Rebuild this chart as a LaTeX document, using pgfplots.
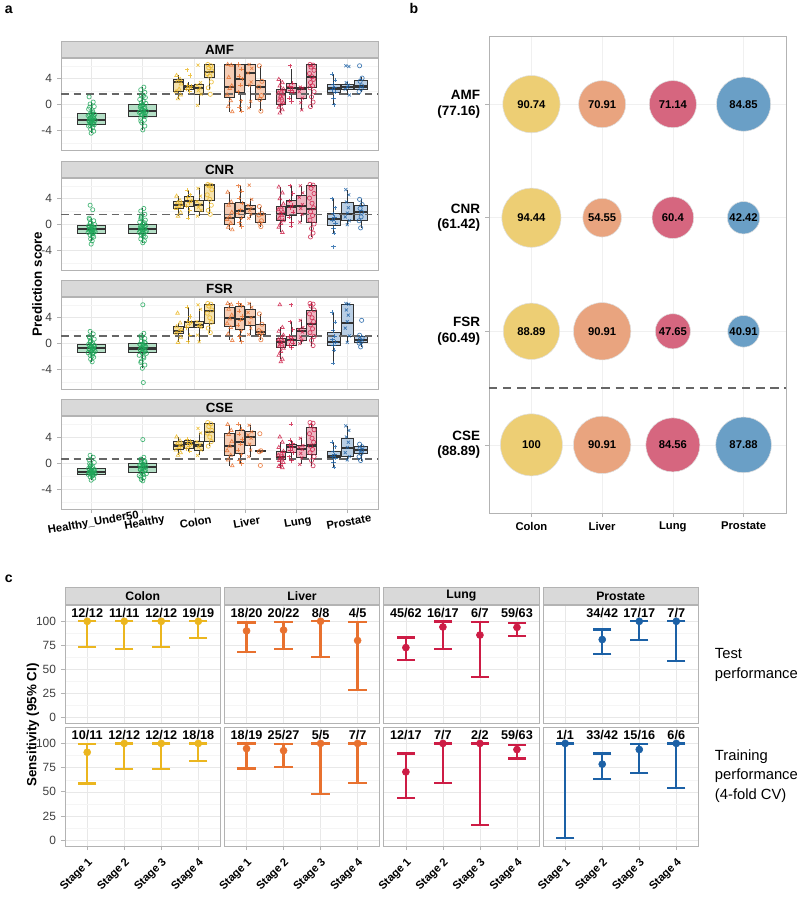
\documentclass[border=0pt]{standalone}
\usepackage{fontspec}
\setmainfont{Liberation Sans}
\usepackage{pgfplots}
\pgfplotsset{compat=1.18}
\usepgfplotslibrary{statistics}

\definecolor{hgreen}{HTML}{1FA75A}
\definecolor{hfill}{HTML}{B4DFC6}
\definecolor{ccol}{HTML}{EBB61F}
\definecolor{cfill}{HTML}{F6E3AE}
\definecolor{lcol}{HTML}{E8712F}
\definecolor{lfill}{HTML}{F5CDB5}
\definecolor{gcol}{HTML}{CD1C45}
\definecolor{gfill}{HTML}{EDB6C2}
\definecolor{pcol}{HTML}{1C61A6}
\definecolor{pfill}{HTML}{B9CEE4}
\definecolor{boxln}{HTML}{333333}
\definecolor{frame}{HTML}{B3B3B3}
\definecolor{stripgray}{HTML}{D9D9D9}
\definecolor{bcol}{HTML}{EDCE74}
\definecolor{bliv}{HTML}{E9A47F}
\definecolor{blun}{HTML}{D6667F}
\definecolor{bpro}{HTML}{6A9FC6}
\definecolor{cutline}{HTML}{666666}

\newcommand{\fs}[2]{\fontsize{#1}{#2}\selectfont}

% box: position, lower whisker, lower q, median, upper q, upper whisker, fill, width
\newcommand{\bx}[8]{\addplot[boxst, fill=#7, boxplot prepared={draw position=#1, lower whisker=#2, lower quartile=#3, median=#4, upper quartile=#5, upper whisker=#6, box extend=#8}] coordinates {};}
% jittered points: colour, mark, coordinates
\newcommand{\pts}[3]{\addplot[only marks, mark=#2, color=#1, mark size=1.5pt, mark options={line width=0.5pt}, opacity=0.8] coordinates {#3};}
% bubble: x, y, radius (pt), fill
\newcommand{\bub}[4]{\addplot[only marks, mark=*, mark size=#3pt, mark options={fill=#4, draw=black!12, line width=0.4pt}] coordinates {(#1,#2)};}

\pgfplotsset{
  base/.style={
    scale only axis,
    axis line style={draw=frame, line width=0.7pt},
    tick align=outside,
    tick style={draw=frame, line width=0.5pt},
    major tick length=1mm,
    minor tick length=0pt,
    xtick pos=left, ytick pos=left,
    grid=both,
    major grid style={draw=black!9, line width=0.45pt},
    minor grid style={draw=black!4, line width=0.3pt},
    tick label style={font=\fs{8.5}{10}, text=black!75},
    /pgf/number format/assume math mode=true,
    anchor=south west,
  },
  boxst/.style={draw=boxln, line width=0.6pt},
  cut/.style={cutline, line width=1.3pt, dash pattern=on 5.5pt off 3.5pt},
  facetA/.style={base, width=79.25mm, height=23mm,
    xmin=0.4, xmax=6.6, ymin=-7, ymax=7.2,
    xtick={1,...,6}, xticklabels={},
    ytick={-4,0,4}, minor ytick={-6,-2,2,6},
    boxplot/draw direction=y,
    boxplot/whisker extend=0,
    boxplot/every median/.style={line width=1.5pt},
    every axis title/.style={at={(0.5,1)}, anchor=south, fill=stripgray, draw=frame, line width=0.7pt,
      inner sep=0pt, minimum width=79.25mm, minimum height=4mm, font=\bfseries\fs{9.5}{10}}},
  facetC/.style={base, width=38.875mm,
    xmin=0.4, xmax=4.6, ymin=-6, ymax=117,
    xtick={1,2,3,4}, xticklabels={Stage 1,Stage 2,Stage 3,Stage 4},
    xticklabel style={rotate=45, anchor=north east, font=\bfseries\fs{8}{10}, text=black},
    ytick={0,25,50,75,100}, minor ytick={12.5,37.5,62.5,87.5}},
  topC/.style={height=29.5mm, xticklabels={}, xmajorticks=false,
    every axis title/.style={at={(0.5,1)}, anchor=south, fill=stripgray, draw=frame, line width=0.7pt,
      inner sep=0pt, minimum width=38.875mm, minimum height=4.25mm, font=\bfseries\fs{8.7}{10}}},
  botC/.style={height=29.75mm},
  noy/.style={yticklabels={}, ymajorticks=false},
  cap/.style={only marks, mark=-, mark size=6.5pt, color=#1, mark options={line width=1.6pt}},
  eb/.style={only marks, mark=*, mark size=2.5pt, color=#1, line width=1.7pt,
    mark options={line width=0.4pt},
    /pgfplots/error bars/error bar style={line width=1.7pt, color=#1},
    error bars/.cd, y dir=both, y explicit, error mark=none},
  lab/.style={draw=none, mark=none, nodes near coords, point meta=explicit symbolic,
    nodes near coords style={anchor=center, font=\bfseries\fs{9}{10}, text=black}},
}

\begin{document}
\begin{tikzpicture}
\path[use as bounding box] (0,0) rectangle (200mm,-224.5mm);

% ---------------- panel a ----------------
\node[anchor=west, font=\bfseries\fs{10}{12}] at (0mm,-2.5mm) {a};
\node[rotate=90, font=\bfseries\fs{9.5}{11}] at (9.25mm,-71mm) {Prediction score};

% AMF
\begin{axis}[facetA, at={(15.25mm,-37.5mm)}, title={AMF}, xmajorticks=false]
\bx{1}{-4.4}{-3.0}{-2.4}{-1.4}{0.4}{hfill}{0.55}
\bx{2}{-3.9}{-1.75}{-1.0}{0.05}{2.7}{hfill}{0.55}
\bx{2.7}{0.9}{2.0}{3.5}{3.9}{4.6}{cfill}{0.19}
\bx{2.9}{2.0}{2.4}{2.8}{3.0}{3.5}{cfill}{0.19}
\bx{3.1}{-0.1}{1.6}{2.6}{3.05}{3.4}{cfill}{0.19}
\bx{3.3}{2.2}{4.2}{5.0}{6.2}{6.3}{cfill}{0.19}
\bx{3.7}{-1.1}{1.1}{2.7}{6.2}{6.2}{lfill}{0.19}
\bx{3.9}{-1.0}{1.85}{4.0}{6.2}{6.2}{lfill}{0.19}
\bx{4.1}{-0.5}{3.0}{4.9}{6.2}{6.2}{lfill}{0.19}
\bx{4.3}{-1.0}{0.85}{2.7}{3.7}{6.0}{lfill}{0.19}
\bx{4.7}{-1.3}{0.1}{1.7}{2.4}{3.9}{gfill}{0.19}
\bx{4.9}{0.5}{1.9}{2.6}{3.3}{5.5}{gfill}{0.19}
\bx{5.1}{-0.8}{0.95}{2.5}{2.65}{2.7}{gfill}{0.19}
\bx{5.3}{-0.3}{2.6}{4.3}{6.2}{6.2}{gfill}{0.19}
\bx{5.733}{0.0}{1.9}{2.5}{3.15}{4.7}{pfill}{0.25}
\bx{6}{1.5}{2.4}{2.7}{3.1}{3.5}{pfill}{0.25}
\bx{6.267}{1.9}{2.4}{2.8}{3.7}{4.2}{pfill}{0.25}
\addplot[cut] coordinates {(0.4,1.6) (6.6,1.6)};
\pts{hgreen}{o}{(0.95,1.2)(1.03,0.4)(0.97,0.1)(1.05,-0.3)(0.94,-0.7)(1.02,-1.0)(0.98,-1.3)(1.06,-1.5)(0.93,-1.7)(1.01,-1.9)(1.04,-2.1)(0.96,-2.2)(1.07,-2.4)(0.99,-2.5)(0.95,-2.6)(1.03,-2.8)(0.97,-2.9)(1.05,-3.1)(0.94,-3.3)(1.02,-3.5)(0.98,-3.8)(1.04,-4.1)(0.99,-4.4)}
\pts{hgreen}{o}{(1.0,-1.45)(0.96,-1.6)(1.04,-1.8)(0.98,-2.0)(1.02,-2.3)(0.95,-2.45)(1.05,-2.55)(0.99,-2.7)(1.03,-3.0)(0.97,-3.2)(1.01,-1.2)(0.96,-0.4)}
\pts{hgreen}{o}{(2.02,2.7)(1.96,2.3)(2.04,1.9)(1.97,1.5)(2.05,1.1)(1.94,0.8)(2.01,0.5)(2.06,0.2)(1.98,-0.1)(1.95,-0.4)(2.03,-0.6)(1.99,-0.8)(2.07,-1.0)(1.93,-1.2)(2.02,-1.4)(1.97,-1.6)(2.05,-1.8)(1.96,-2.1)(2.03,-2.4)(1.98,-2.8)(2.04,-3.3)(2.0,-3.9)}
\pts{hgreen}{o}{(2.0,0.0)(1.96,-0.2)(2.04,-0.5)(1.98,-0.7)(2.02,-0.9)(1.95,-1.1)(2.05,-1.3)(1.99,-1.5)(2.03,-1.7)(1.97,0.3)(2.01,1.3)(1.96,-2.5)}
\pts{ccol}{triangle}{(2.66,4.5)(2.73,3.9)(2.68,3.6)(2.75,3.2)(2.71,2.4)(2.65,2.0)(2.74,1.5)(2.69,0.9)}
\pts{ccol}{+}{(2.87,5.4)(2.93,4.5)(2.88,3.0)(2.94,2.8)(2.91,2.6)(2.86,2.4)(2.92,2.0)}
\pts{ccol}{x}{(3.08,6.1)(3.13,3.4)(3.06,3.0)(3.12,2.6)(3.09,2.2)(3.14,1.6)(3.07,-0.1)}
\pts{ccol}{o}{(3.27,6.2)(3.33,6.0)(3.29,5.7)(3.35,5.2)(3.26,4.8)(3.31,4.4)(3.34,3.5)(3.28,2.6)(3.32,1.6)}
\pts{lcol}{triangle}{(3.66,6.2)(3.73,6.1)(3.68,4.2)(3.74,2.9)(3.7,2.5)(3.65,1.5)(3.72,0.6)(3.67,-0.3)(3.75,-1.1)}
\pts{lcol}{+}{(3.87,6.2)(3.93,5.5)(3.88,4.4)(3.94,4.0)(3.91,3.0)(3.86,2.0)(3.92,0.6)(3.89,-0.4)(3.93,-1.0)}
\pts{lcol}{x}{(4.08,6.2)(4.13,5.6)(4.06,4.9)(4.12,3.5)(4.09,3.0)(4.11,0.5)(4.07,-0.5)}
\pts{lcol}{o}{(4.28,6.0)(4.33,3.6)(4.27,2.7)(4.32,1.4)(4.29,0.8)(4.31,-1.0)}
\pts{gcol}{triangle}{(4.66,3.9)(4.73,3.4)(4.68,2.9)(4.75,2.4)(4.71,2.1)(4.65,1.8)(4.74,1.6)(4.69,1.3)(4.72,1.0)(4.67,0.7)(4.75,0.3)(4.7,0.0)(4.66,-0.4)(4.73,-0.8)(4.68,-1.3)}
\pts{gcol}{+}{(4.88,6.0)(4.93,3.3)(4.87,2.9)(4.92,2.6)(4.89,2.2)(4.94,1.9)(4.86,1.0)(4.91,0.5)}
\pts{gcol}{x}{(5.08,2.7)(5.13,2.55)(5.06,2.0)(5.12,1.0)(5.09,0.3)(5.11,-0.8)}
\pts{gcol}{o}{(5.27,6.2)(5.33,6.1)(5.29,5.8)(5.35,5.3)(5.26,4.8)(5.31,4.3)(5.34,3.9)(5.28,3.4)(5.32,2.9)(5.27,2.6)(5.35,2.0)(5.3,1.2)(5.33,0.4)(5.28,-0.3)}
\pts{pcol}{+}{(5.70,4.7)(5.76,3.8)(5.72,3.1)(5.75,2.6)(5.71,2.3)(5.77,1.9)(5.73,1.0)(5.74,0.0)}
\pts{pcol}{x}{(5.97,6.0)(6.03,5.9)(5.98,3.4)(6.02,3.0)(6.0,2.7)(5.96,2.4)(6.04,1.5)}
\pts{pcol}{o}{(6.24,6.0)(6.29,4.1)(6.25,3.6)(6.28,2.9)(6.27,2.5)(6.23,2.0)}
\end{axis}

% CNR
\begin{axis}[facetA, at={(15.25mm,-67.5mm)}, title={CNR}, xmajorticks=false]
\bx{1}{-2.5}{-1.3}{-0.65}{-0.1}{1.0}{hfill}{0.55}
\bx{2}{-2.8}{-1.4}{-0.7}{0.1}{2.5}{hfill}{0.55}
\bx{2.7}{1.3}{2.5}{3.0}{3.55}{4.4}{cfill}{0.19}
\bx{2.9}{1.0}{2.75}{3.6}{4.4}{5.3}{cfill}{0.19}
\bx{3.1}{1.3}{2.1}{3.0}{3.8}{5.6}{cfill}{0.19}
\bx{3.3}{1.6}{3.8}{6.1}{6.2}{6.2}{cfill}{0.19}
\bx{3.7}{-0.8}{0.1}{1.0}{3.3}{5.0}{lfill}{0.19}
\bx{3.9}{-0.3}{1.1}{2.1}{3.5}{6.0}{lfill}{0.19}
\bx{4.1}{1.0}{1.7}{2.4}{3.0}{3.9}{lfill}{0.19}
\bx{4.3}{-0.3}{0.3}{1.6}{1.75}{2.8}{lfill}{0.19}
\bx{4.7}{-1.2}{0.7}{1.7}{2.8}{5.8}{gfill}{0.19}
\bx{4.9}{-0.2}{1.5}{2.8}{3.7}{6.0}{gfill}{0.19}
\bx{5.1}{0.4}{1.7}{2.9}{4.5}{6.0}{gfill}{0.19}
\bx{5.3}{-1.9}{0.3}{2.4}{6.1}{6.2}{gfill}{0.19}
\bx{5.733}{-1.3}{-0.1}{0.9}{1.75}{4.0}{pfill}{0.25}
\bx{6}{0.0}{0.6}{1.7}{3.4}{5.4}{pfill}{0.25}
\bx{6.267}{-0.5}{0.7}{2.0}{2.9}{3.9}{pfill}{0.25}
\addplot[cut] coordinates {(0.4,1.58) (6.6,1.58)};
\pts{hgreen}{o}{(0.97,3.0)(1.02,2.3)(0.95,1.0)(1.04,0.6)(0.98,0.3)(1.06,0.0)(0.94,-0.2)(1.01,-0.4)(1.05,-0.5)(0.96,-0.7)(1.03,-0.8)(0.99,-0.9)(1.07,-1.1)(0.93,-1.2)(1.02,-1.4)(0.97,-1.6)(1.04,-1.9)(0.98,-2.2)(1.01,-2.5)(0.99,-3.0)}
\pts{hgreen}{o}{(1.0,-0.15)(0.96,-0.3)(1.04,-0.45)(0.98,-0.6)(1.02,-0.75)(0.95,-0.85)(1.05,-1.0)(0.99,-1.15)(1.03,-1.25)(0.97,0.2)(1.01,-1.8)(0.96,0.8)}
\pts{hgreen}{o}{(2.02,2.5)(1.96,2.1)(2.04,1.6)(1.97,1.1)(2.05,0.7)(1.94,0.4)(2.01,0.1)(2.06,-0.1)(1.98,-0.3)(1.95,-0.5)(2.03,-0.7)(1.99,-0.8)(2.07,-1.0)(1.93,-1.2)(2.02,-1.4)(1.97,-1.6)(2.05,-1.9)(1.96,-2.2)(2.03,-2.5)(2.0,-2.8)}
\pts{hgreen}{o}{(2.0,0.05)(1.96,-0.2)(2.04,-0.4)(1.98,-0.6)(2.02,-0.75)(1.95,-0.9)(2.05,-1.1)(1.99,-1.3)(2.03,0.3)(1.97,1.3)(2.01,-1.8)(1.96,0.9)}
\pts{ccol}{triangle}{(2.66,4.4)(2.73,3.7)(2.68,3.4)(2.75,3.1)(2.71,2.8)(2.65,2.5)(2.74,1.9)(2.69,1.3)}
\pts{ccol}{+}{(2.87,5.3)(2.93,4.6)(2.88,4.2)(2.94,3.7)(2.91,3.4)(2.86,2.9)(2.92,2.2)(2.89,1.0)}
\pts{ccol}{x}{(3.08,5.6)(3.13,4.4)(3.06,3.6)(3.12,3.1)(3.09,2.7)(3.14,2.2)(3.07,1.3)}
\pts{ccol}{o}{(3.27,6.2)(3.33,6.1)(3.29,6.0)(3.35,5.4)(3.26,4.6)(3.31,3.9)(3.34,3.0)(3.28,2.2)(3.32,1.6)}
\pts{lcol}{triangle}{(3.66,5.0)(3.73,3.5)(3.68,3.0)(3.74,1.9)(3.7,1.2)(3.65,0.8)(3.72,0.2)(3.67,-0.4)(3.75,-0.8)}
\pts{lcol}{+}{(3.87,6.0)(3.93,5.2)(3.88,4.1)(3.94,3.3)(3.91,2.3)(3.86,1.8)(3.92,1.0)(3.89,0.3)(3.93,-0.3)}
\pts{lcol}{x}{(4.08,6.1)(4.13,3.9)(4.06,3.0)(4.12,2.6)(4.09,2.2)(4.11,1.6)(4.07,1.0)}
\pts{lcol}{o}{(4.28,2.8)(4.33,1.7)(4.27,1.5)(4.32,0.6)(4.29,0.2)(4.31,-0.3)}
\pts{gcol}{triangle}{(4.66,5.8)(4.73,4.9)(4.68,4.0)(4.75,3.2)(4.71,2.7)(4.65,2.3)(4.74,2.0)(4.69,1.7)(4.72,1.4)(4.67,1.0)(4.75,0.6)(4.7,0.2)(4.66,-0.4)(4.73,-1.2)}
\pts{gcol}{+}{(4.88,6.0)(4.93,4.8)(4.87,3.6)(4.92,3.0)(4.89,2.6)(4.94,1.9)(4.86,1.2)(4.91,0.4)(4.9,-0.2)}
\pts{gcol}{x}{(5.08,6.0)(5.13,4.9)(5.06,4.2)(5.12,3.1)(5.09,2.5)(5.11,1.6)(5.07,0.4)}
\pts{gcol}{o}{(5.27,6.2)(5.33,6.1)(5.29,5.6)(5.35,4.8)(5.26,4.1)(5.31,3.3)(5.34,2.6)(5.28,2.0)(5.32,1.4)(5.27,0.7)(5.35,0.1)(5.3,-0.6)(5.33,-1.3)(5.28,-1.9)}
\pts{pcol}{+}{(5.70,4.0)(5.76,2.6)(5.72,1.7)(5.75,1.1)(5.71,0.7)(5.77,0.2)(5.73,-0.5)(5.74,-1.3)(5.73,-3.4)}
\pts{pcol}{x}{(5.97,5.4)(6.03,4.6)(5.98,3.5)(6.02,2.6)(6.0,1.8)(5.96,1.2)(6.04,0.6)(6.0,0.0)}
\pts{pcol}{o}{(6.24,3.9)(6.29,3.1)(6.25,2.5)(6.28,1.9)(6.27,1.2)(6.23,0.6)(6.26,-0.5)}
\end{axis}

% FSR
\begin{axis}[facetA, at={(15.25mm,-97.25mm)}, title={FSR}, xmajorticks=false]
\bx{1}{-2.8}{-1.4}{-0.7}{-0.05}{1.9}{hfill}{0.55}
\bx{2}{-3.8}{-1.4}{-0.75}{0.0}{1.6}{hfill}{0.55}
\bx{2.7}{0.2}{1.6}{2.0}{2.6}{3.2}{cfill}{0.19}
\bx{2.9}{0.3}{2.5}{3.3}{3.5}{5.6}{cfill}{0.19}
\bx{3.1}{0.3}{2.5}{2.9}{3.4}{5.3}{cfill}{0.19}
\bx{3.3}{1.7}{3.1}{5.0}{6.1}{6.2}{cfill}{0.19}
\bx{3.7}{0.5}{2.6}{3.9}{5.6}{6.2}{lfill}{0.19}
\bx{3.9}{0.3}{2.2}{3.8}{5.8}{6.2}{lfill}{0.19}
\bx{4.1}{1.4}{2.8}{4.1}{5.3}{6.2}{lfill}{0.19}
\bx{4.3}{0.6}{1.45}{1.8}{3.0}{4.6}{lfill}{0.19}
\bx{4.7}{-2.4}{-0.6}{0.3}{0.8}{2.5}{gfill}{0.19}
\bx{4.9}{-0.6}{-0.2}{0.5}{1.05}{3.4}{gfill}{0.19}
\bx{5.1}{0.0}{0.55}{2.0}{2.4}{3.6}{gfill}{0.19}
\bx{5.3}{-0.3}{1.05}{3.0}{5.2}{6.2}{gfill}{0.19}
\bx{5.733}{-3.0}{-0.2}{0.3}{1.8}{4.8}{pfill}{0.25}
\bx{6}{0.2}{1.05}{3.2}{6.1}{6.2}{pfill}{0.25}
\bx{6.267}{-0.5}{0.15}{0.5}{1.15}{1.3}{pfill}{0.25}
\addplot[cut] coordinates {(0.4,1.15) (6.6,1.15)};
\pts{hgreen}{o}{(0.97,1.9)(1.03,1.5)(0.95,1.1)(1.05,0.7)(0.98,0.4)(1.02,0.1)(0.94,-0.1)(1.06,-0.3)(0.99,-0.5)(1.04,-0.7)(0.96,-0.8)(1.01,-1.0)(1.07,-1.2)(0.93,-1.4)(1.02,-1.6)(0.97,-1.8)(1.04,-2.1)(0.98,-2.4)(1.01,-2.8)}
\pts{hgreen}{o}{(1.0,-0.1)(0.96,-0.25)(1.04,-0.4)(0.98,-0.55)(1.02,-0.75)(0.95,-0.9)(1.05,-1.05)(0.99,-1.2)(1.03,-1.35)(0.97,0.25)(1.01,-1.9)(0.96,0.9)}
\pts{hgreen}{o}{(2.0,6.0)(2.02,1.6)(1.96,1.2)(2.04,0.8)(1.97,0.4)(2.05,0.1)(1.94,-0.1)(2.01,-0.3)(2.06,-0.5)(1.98,-0.7)(1.95,-0.9)(2.03,-1.1)(1.99,-1.3)(2.07,-1.5)(1.93,-1.8)(2.02,-2.2)(1.97,-2.7)(2.04,-3.3)(1.99,-3.8)(2.01,-6.0)}
\pts{hgreen}{o}{(2.0,-0.05)(1.96,-0.2)(2.04,-0.4)(1.98,-0.6)(2.02,-0.8)(1.95,-0.95)(2.05,-1.2)(1.99,-1.35)(2.03,0.25)(1.97,1.0)(2.01,-2.0)(1.96,-2.9)}
\pts{ccol}{triangle}{(2.68,4.7)(2.73,3.2)(2.66,2.6)(2.75,2.2)(2.71,1.9)(2.65,1.6)(2.74,1.0)(2.69,0.2)}
\pts{ccol}{+}{(2.87,5.6)(2.93,4.2)(2.88,3.5)(2.94,3.3)(2.91,3.0)(2.86,2.5)(2.92,1.3)(2.89,0.3)}
\pts{ccol}{x}{(3.08,6.0)(3.13,5.3)(3.06,3.4)(3.12,3.0)(3.09,2.7)(3.14,2.5)(3.07,1.3)(3.1,0.3)}
\pts{ccol}{o}{(3.27,6.2)(3.33,6.1)(3.29,5.8)(3.35,5.2)(3.26,4.7)(3.31,4.0)(3.34,3.3)(3.28,2.4)(3.32,1.7)}
\pts{lcol}{triangle}{(3.66,6.2)(3.73,6.0)(3.68,5.3)(3.74,4.4)(3.7,3.8)(3.65,3.1)(3.72,2.5)(3.67,1.5)(3.75,0.5)}
\pts{lcol}{+}{(3.87,6.2)(3.93,5.9)(3.88,5.0)(3.94,4.2)(3.91,3.6)(3.86,2.9)(3.92,2.0)(3.89,1.1)(3.93,0.3)}
\pts{lcol}{x}{(4.08,6.2)(4.13,5.6)(4.06,4.8)(4.12,4.0)(4.09,3.2)(4.11,2.4)(4.07,1.4)}
\pts{lcol}{o}{(4.28,4.6)(4.33,3.0)(4.27,2.0)(4.32,1.7)(4.29,1.4)(4.31,0.6)}
\pts{gcol}{triangle}{(4.68,6.0)(4.73,2.5)(4.66,1.9)(4.75,1.3)(4.71,0.9)(4.65,0.6)(4.74,0.4)(4.69,0.2)(4.72,-0.1)(4.67,-0.4)(4.75,-0.7)(4.7,-1.2)(4.66,-1.8)(4.73,-2.4)(4.7,-2.8)}
\pts{gcol}{+}{(4.9,6.0)(4.88,3.4)(4.93,2.2)(4.87,1.1)(4.92,0.8)(4.89,0.5)(4.94,0.1)(4.86,-0.2)(4.91,-0.6)}
\pts{gcol}{x}{(5.08,3.6)(5.13,2.5)(5.06,2.2)(5.12,1.8)(5.09,1.0)(5.11,0.5)(5.07,0.0)}
\pts{gcol}{o}{(5.27,6.2)(5.33,6.1)(5.29,5.8)(5.35,5.2)(5.26,4.6)(5.31,4.0)(5.34,3.4)(5.28,2.9)(5.32,2.3)(5.27,1.7)(5.35,1.1)(5.3,0.5)(5.33,-0.3)}
\pts{pcol}{+}{(5.70,4.8)(5.76,3.3)(5.72,2.0)(5.75,1.2)(5.71,0.6)(5.77,0.2)(5.73,-0.2)(5.74,-1.0)(5.72,-3.0)}
\pts{pcol}{x}{(5.97,6.2)(6.03,6.1)(5.98,5.2)(6.02,4.4)(6.0,3.4)(5.96,2.4)(6.04,1.2)(6.0,0.2)}
\pts{pcol}{o}{(6.28,3.6)(6.24,1.3)(6.29,0.9)(6.25,0.6)(6.27,0.3)(6.23,0.1)(6.26,-0.5)}
\end{axis}

% CSE
\begin{axis}[facetA, at={(15.25mm,-127.25mm)}, height=23.25mm, title={CSE},
  xticklabels={Healthy\_Under50,Healthy,Colon,Liver,Lung,Prostate},
  xticklabel style={rotate=10, anchor=north, font=\bfseries\fs{8}{10}, text=black}]
\bx{1}{-2.6}{-1.65}{-1.4}{-0.75}{1.2}{hfill}{0.55}
\bx{2}{-2.7}{-1.4}{-0.6}{-0.1}{0.9}{hfill}{0.55}
\bx{2.7}{1.2}{2.05}{2.7}{3.25}{4.0}{cfill}{0.19}
\bx{2.9}{1.8}{2.2}{3.0}{3.4}{3.7}{cfill}{0.19}
\bx{3.1}{1.2}{2.0}{2.7}{3.3}{4.6}{cfill}{0.19}
\bx{3.3}{2.6}{3.25}{4.8}{6.1}{6.2}{cfill}{0.19}
\bx{3.7}{-0.4}{1.2}{2.6}{4.6}{5.9}{lfill}{0.19}
\bx{3.9}{-0.1}{1.55}{3.2}{5.0}{6.0}{lfill}{0.19}
\bx{4.1}{1.0}{2.7}{4.0}{4.8}{5.8}{lfill}{0.19}
\bx{4.3}{1.7}{1.72}{1.8}{1.95}{1.95}{lfill}{0.19}
\bx{4.7}{-0.7}{0.55}{0.93}{1.85}{3.2}{gfill}{0.19}
\bx{4.9}{0.4}{1.6}{2.5}{2.9}{3.5}{gfill}{0.19}
\bx{5.1}{-0.2}{0.85}{2.2}{2.65}{3.8}{gfill}{0.19}
\bx{5.3}{-0.4}{1.35}{2.7}{5.5}{6.2}{gfill}{0.19}
\bx{5.733}{-0.6}{0.83}{1.1}{1.86}{3.2}{pfill}{0.25}
\bx{6}{0.5}{1.1}{2.35}{3.8}{5.7}{pfill}{0.25}
\bx{6.267}{0.4}{1.45}{2.0}{2.5}{2.9}{pfill}{0.25}
\addplot[cut] coordinates {(0.4,0.65) (6.6,0.65)};
\pts{hgreen}{o}{(0.97,1.2)(1.03,0.9)(0.95,0.5)(1.05,0.1)(0.98,-0.3)(1.02,-0.6)(0.94,-0.8)(1.06,-1.0)(0.99,-1.2)(1.04,-1.3)(0.96,-1.4)(1.01,-1.5)(1.07,-1.6)(0.93,-1.7)(1.02,-1.9)(0.97,-2.1)(1.04,-2.3)(0.99,-2.6)}
\pts{hgreen}{o}{(1.0,-0.8)(0.96,-0.95)(1.04,-1.1)(0.98,-1.25)(1.02,-1.35)(0.95,-1.45)(1.05,-1.55)(0.99,-1.65)(1.03,-1.8)(0.97,-0.5)(1.01,-2.0)(0.96,-0.1)}
\pts{hgreen}{o}{(2.0,3.6)(2.02,0.9)(1.96,0.6)(2.04,0.3)(1.97,0.1)(2.05,-0.1)(1.94,-0.3)(2.01,-0.5)(2.06,-0.6)(1.98,-0.8)(1.95,-1.0)(2.03,-1.2)(1.99,-1.4)(2.07,-1.6)(1.93,-1.9)(2.02,-2.2)(1.97,-2.5)(2.0,-2.7)}
\pts{hgreen}{o}{(2.0,-0.15)(1.96,-0.3)(2.04,-0.45)(1.98,-0.65)(2.02,-0.75)(1.95,-0.9)(2.05,-1.1)(1.99,-1.3)(2.03,0.2)(1.97,0.5)(2.01,-1.75)(1.96,-2.1)}
\pts{ccol}{triangle}{(2.66,4.0)(2.73,3.4)(2.68,3.0)(2.75,2.7)(2.71,2.4)(2.65,2.0)(2.74,1.6)(2.69,1.2)}
\pts{ccol}{+}{(2.87,3.7)(2.93,3.4)(2.88,3.1)(2.94,2.9)(2.91,2.6)(2.86,2.2)(2.92,1.8)}
\pts{ccol}{x}{(3.08,5.3)(3.13,4.6)(3.06,3.3)(3.12,2.8)(3.09,2.5)(3.14,2.0)(3.07,1.2)}
\pts{ccol}{o}{(3.27,6.2)(3.33,6.0)(3.29,5.6)(3.35,5.0)(3.26,4.6)(3.31,4.0)(3.34,3.3)(3.28,2.6)}
\pts{lcol}{triangle}{(3.66,5.9)(3.73,5.0)(3.68,4.4)(3.74,3.3)(3.7,2.6)(3.65,1.9)(3.72,1.2)(3.67,0.5)(3.75,-0.4)}
\pts{lcol}{+}{(3.87,6.0)(3.93,5.2)(3.88,4.4)(3.94,3.6)(3.91,2.9)(3.86,2.0)(3.92,1.3)(3.89,0.4)(3.93,-0.1)}
\pts{lcol}{x}{(4.08,5.8)(4.13,4.8)(4.06,4.3)(4.12,3.8)(4.09,2.9)(4.11,2.0)(4.07,1.0)}
\pts{lcol}{o}{(4.29,4.5)(4.31,1.9)(4.28,1.75)(4.3,-0.35)}
\pts{gcol}{triangle}{(4.68,4.0)(4.73,3.2)(4.66,2.4)(4.75,1.8)(4.71,1.5)(4.65,1.2)(4.74,1.0)(4.69,0.8)(4.72,0.6)(4.67,0.4)(4.75,0.1)(4.7,-0.2)(4.66,-0.5)(4.73,-0.7)}
\pts{gcol}{+}{(4.9,6.0)(4.88,3.5)(4.93,3.0)(4.87,2.7)(4.92,2.4)(4.89,2.0)(4.94,1.6)(4.86,1.0)(4.91,0.4)}
\pts{gcol}{x}{(5.08,3.8)(5.13,2.7)(5.06,2.4)(5.12,2.1)(5.09,1.5)(5.11,0.8)(5.07,-0.2)}
\pts{gcol}{o}{(5.27,6.2)(5.33,6.1)(5.29,5.7)(5.35,5.1)(5.26,4.5)(5.31,3.8)(5.34,3.2)(5.28,2.6)(5.32,2.1)(5.27,1.6)(5.35,1.0)(5.3,0.4)(5.33,-0.4)}
\pts{pcol}{+}{(5.70,3.2)(5.76,2.5)(5.72,1.8)(5.75,1.3)(5.71,1.0)(5.77,0.8)(5.73,0.2)(5.74,-0.6)}
\pts{pcol}{x}{(5.97,5.7)(6.03,5.0)(5.98,4.0)(6.02,3.2)(6.0,2.4)(5.96,1.6)(6.04,1.0)(6.0,0.5)}
\pts{pcol}{o}{(6.24,2.9)(6.29,2.5)(6.25,2.2)(6.28,1.9)(6.27,1.5)(6.23,1.0)(6.26,0.4)}
\end{axis}

% ---------------- panel b ----------------
\node[font=\bfseries\fs{10}{12}] at (103.5mm,-2mm) {b};
\begin{axis}[base, at={(122.25mm,-128.25mm)}, width=74.25mm, height=119.25mm,
  xmin=0.4, xmax=4.6, ymin=0.4, ymax=4.6,
  xtick={1,2,3,4}, xticklabels={Colon,Liver,Lung,Prostate},
  ytick={1,2,3,4},
  yticklabels={{CSE\\(88.89)},{FSR\\(60.49)},{CNR\\(61.42)},{AMF\\(77.16)}},
  yticklabel style={align=right, font=\bfseries\fs{9.6}{11}, text=black},
  xticklabel style={font=\bfseries\fs{8}{10}, text=black},
  major grid style={draw=black!6, line width=0.45pt},
  clip=false]
\addplot[cut, dash pattern=on 6pt off 4pt] coordinates {(0.4,1.5) (4.6,1.5)};
% bubble radius in pt, from the sensitivity value
\bub{1}{4}{20.36}{bcol}
\bub{1}{3}{21.04}{bcol}
\bub{1}{2}{20.02}{bcol}
\bub{1}{1}{22.05}{bcol}
\bub{2}{4}{16.74}{bliv}
\bub{2}{3}{13.76}{bliv}
\bub{2}{2}{20.39}{bliv}
\bub{2}{1}{20.39}{bliv}
\bub{3}{4}{16.78}{blun}
\bub{3}{3}{14.83}{blun}
\bub{3}{2}{12.50}{blun}
\bub{3}{1}{19.23}{blun}
\bub{4}{4}{19.29}{bpro}
\bub{4}{3}{11.54}{bpro}
\bub{4}{2}{11.27}{bpro}
\bub{4}{1}{19.84}{bpro}
\addplot[draw=none, mark=none, nodes near coords, point meta=explicit symbolic,
  nodes near coords style={anchor=center, font=\bfseries\fs{8}{10}, text=black}] coordinates {
  (1,4)[90.74] (1,3)[94.44] (1,2)[88.89] (1,1)[100]
  (2,4)[70.91] (2,3)[54.55] (2,2)[90.91] (2,1)[90.91]
  (3,4)[71.14] (3,3)[60.4]  (3,2)[47.65] (3,1)[84.56]
  (4,4)[84.85] (4,3)[42.42] (4,2)[40.91] (4,1)[87.88]};
\end{axis}

% ---------------- panel c ----------------
\node[anchor=west, font=\bfseries\fs{10}{12}] at (0mm,-144.75mm) {c};
\node[rotate=90, font=\bfseries\fs{9.5}{11}] at (8.25mm,-181.25mm) {Sensitivity (95\% CI)};
\node[anchor=west, align=left, font=\fs{10.5}{14}] at (177.5mm,-166.25mm) {Test\\performance};
\node[anchor=west, align=left, font=\fs{10.5}{14}] at (177.5mm,-194mm) {Training\\performance\\(4-fold CV)};

% test row
\begin{axis}[facetC, topC, at={(16.25mm,-180.75mm)}, title={Colon}]
\addplot[cap=ccol] coordinates {(1,100)(1,73.5)(2,100)(2,71.5)(3,100)(3,73.5)(4,100)(4,82.4)};
\addplot[eb=ccol] coordinates {(1,100) += (0,0) -= (0,26.5) (2,100) += (0,0) -= (0,28.5) (3,100) += (0,0) -= (0,26.5) (4,100) += (0,0) -= (0,17.6)};
\addplot[lab] coordinates {(1,109)[12/12] (2,109)[11/11] (3,109)[12/12] (4,109)[19/19]};
\end{axis}
\begin{axis}[facetC, topC, noy, at={(56.08mm,-180.75mm)}, title={Liver}]
\addplot[cap=lcol] coordinates {(1,98.8)(1,68.3)(2,98.9)(2,70.8)(3,100)(3,63.1)(4,99.5)(4,28.4)};
\addplot[eb=lcol] coordinates {(1,90) += (0,8.8) -= (0,21.7) (2,90.9) += (0,8.0) -= (0,20.1) (3,100) += (0,0) -= (0,36.9) (4,80) += (0,19.5) -= (0,51.6)};
\addplot[lab] coordinates {(1,109)[18/20] (2,109)[20/22] (3,109)[8/8] (4,109)[4/5]};
\end{axis}
\begin{axis}[facetC, topC, noy, at={(95.92mm,-180.75mm)}, title={Lung}]
\addplot[cap=gcol] coordinates {(1,83.1)(1,59.8)(2,99.9)(2,71.3)(3,99.6)(3,42.1)(4,98.2)(4,84.5)};
\addplot[eb=gcol] coordinates {(1,72.6) += (0,10.5) -= (0,12.8) (2,94.1) += (0,5.8) -= (0,22.8) (3,85.7) += (0,13.9) -= (0,43.6) (4,93.7) += (0,4.5) -= (0,9.2)};
\addplot[lab] coordinates {(1,109)[45/62] (2,109)[16/17] (3,109)[6/7] (4,109)[59/63]};
\end{axis}
\begin{axis}[facetC, topC, noy, at={(135.75mm,-180.75mm)}, title={Prostate}]
\addplot[cap=pcol] coordinates {(2,91.4)(2,65.9)(3,100)(3,80.5)(4,100)(4,59.0)};
\addplot[eb=pcol] coordinates {(2,81.0) += (0,10.4) -= (0,15.1) (3,100) += (0,0) -= (0,19.5) (4,100) += (0,0) -= (0,41.0)};
\addplot[lab] coordinates {(2,109)[34/42] (3,109)[17/17] (4,109)[7/7]};
\end{axis}

% training row
\begin{axis}[facetC, botC, at={(16.25mm,-211.5mm)}]
\addplot[cap=ccol] coordinates {(1,99.8)(1,58.7)(2,100)(2,73.5)(3,100)(3,73.5)(4,100)(4,81.5)};
\addplot[eb=ccol] coordinates {(1,90.9) += (0,8.9) -= (0,32.2) (2,100) += (0,0) -= (0,26.5) (3,100) += (0,0) -= (0,26.5) (4,100) += (0,0) -= (0,18.5)};
\addplot[lab] coordinates {(1,109)[10/11] (2,109)[12/12] (3,109)[12/12] (4,109)[18/18]};
\end{axis}
\begin{axis}[facetC, botC, noy, at={(56.08mm,-211.5mm)}]
\addplot[cap=lcol] coordinates {(1,99.9)(1,74.0)(2,99.1)(2,75.7)(3,100)(3,47.8)(4,100)(4,59.0)};
\addplot[eb=lcol] coordinates {(1,94.7) += (0,5.2) -= (0,20.7) (2,92.6) += (0,6.5) -= (0,16.9) (3,100) += (0,0) -= (0,52.2) (4,100) += (0,0) -= (0,41.0)};
\addplot[lab] coordinates {(1,109)[18/19] (2,109)[25/27] (3,109)[5/5] (4,109)[7/7]};
\end{axis}
\begin{axis}[facetC, botC, noy, at={(95.92mm,-211.5mm)}]
\addplot[cap=gcol] coordinates {(1,89.7)(1,44.0)(2,100)(2,59.0)(3,100)(3,15.8)(4,98.2)(4,84.5)};
\addplot[eb=gcol] coordinates {(1,70.6) += (0,19.1) -= (0,26.6) (2,100) += (0,0) -= (0,41.0) (3,100) += (0,0) -= (0,84.2) (4,93.7) += (0,4.5) -= (0,9.2)};
\addplot[lab] coordinates {(1,109)[12/17] (2,109)[7/7] (3,109)[2/2] (4,109)[59/63]};
\end{axis}
\begin{axis}[facetC, botC, noy, at={(135.75mm,-211.5mm)}]
\addplot[cap=pcol] coordinates {(1,100)(1,2.5)(2,89.7)(2,63.2)(3,99.8)(3,69.8)(4,100)(4,54.1)};
\addplot[eb=pcol] coordinates {(1,100) += (0,0) -= (0,97.5) (2,78.6) += (0,11.1) -= (0,15.4) (3,93.75) += (0,6.05) -= (0,23.95) (4,100) += (0,0) -= (0,45.9)};
\addplot[lab] coordinates {(1,109)[1/1] (2,109)[33/42] (3,109)[15/16] (4,109)[6/6]};
\end{axis}

\end{tikzpicture}
\end{document}
